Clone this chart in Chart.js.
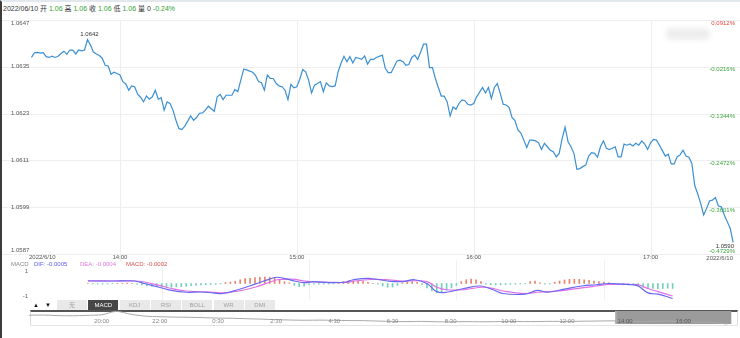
<!DOCTYPE html>
<html>
<head>
<meta charset="utf-8">
<script src="https://cdn.jsdelivr.net/npm/chart.js@4.4.0/dist/chart.umd.min.js"></script>
<style>
  html, body { margin: 0; padding: 0; background: #fff; }
  body { width: 740px; height: 338px; position: relative; overflow: hidden;
         font-family: "Liberation Sans", "Noto Sans CJK SC", sans-serif; }
  canvas { position: absolute; left: 0; }
  #frame { position: absolute; left: 0; top: 0; width: 740px; height: 338px; box-sizing: border-box;
           border-left: 2px solid #3c3c3c; border-top: 2px solid #e3e8ef; pointer-events: none; z-index: 5; }
  #head { position: absolute; left: 3px; top: 5px; font-size: 7px; line-height: 8px; color: #333; white-space: nowrap; }
  #head .n { color: #2f9f2f; }
  #blob { position: absolute; left: 666px; top: 28px; width: 44px; height: 12px; background: #eeeeee;
          border-radius: 4px; filter: blur(2.5px); }
  #tabs { position: absolute; left: 0; top: 300px; height: 10px; width: 300px; z-index: 3; }
  #tabs .arr { position: absolute; top: 0; font-size: 6px; line-height: 10px; color: #111; }
  #tabs .tab { position: absolute; top: 0; width: 30px; height: 10px; background: #e9e9e9;
               font-size: 6px; line-height: 10px; text-align: center; color: #a0a0a0; }
  #tabs .tab.on { background: #474747; color: #fff; }
  #nav { position: absolute; left: 30px; top: 310px; width: 708px; height: 16px; box-sizing: border-box;
         border-top: 2px solid #555; border-left: 1px solid #ddd; border-right: 1px solid #ddd;
         border-bottom: 1px solid #e4e4e4; }
</style>
</head>
<body>
<div id="head">2022/06/10 开 <span class="n">1.06</span> 高 <span class="n">1.06</span> 收 <span class="n">1.06</span> 低 <span class="n">1.06</span> 量 0 <span class="n">-0.24%</span></div>
<div id="blob"></div>
<canvas id="main" width="740" height="262" style="top:0"></canvas>
<canvas id="macd" width="740" height="46" style="top:256px"></canvas>
<div id="nav"></div>
<canvas id="navc" width="740" height="16" style="top:310px"></canvas>
<div id="tabs">
  <span class="arr" style="left:33px">▲</span>
  <span class="arr" style="left:45px">▼</span>
</div>
<div id="frame"></div>
<script>
// minutes after 13:30, one price per traced minute
const minutes = [
  0,1,2,3,4,5,6,7,8,9,10,11,12,13,14,15,16,17,18,19,20,21,22,23,24,25,26,27,28,29,
  30,31,32,33,34,35,36,37,38,39,40,41,42,43,44,45,46,47,48,49,50,51,52,54,55,56,57,58,59,60,
  62,63,64,65,66,68,69,70,71,72,73,75,76,77,78,79,80,81,82,83,84,85,86,87,88,89,90,
  91,92,93,94,95,96,97,98,99,100,101,102,103,104,105,106,107,108,109,110,111,112,113,114,115,116,117,119,120,
  121,122,123,124,125,126,127,128,129,130,131,132,133,134,135,136,137,138,139,140,141,142,143,144,145,146,147,148,149,150,
  151,153,154,155,156,157,158,159,160,161,162,163,164,165,166,167,168,169,170,171,172,173,174,175,176,177,178,179,180,
  181,182,183,184,185,186,187,188,189,190,191,192,193,194,195,196,197,198,199,200,201,202,203,204,205,206,207,208,209,210,
  211,212,213,214,215,216,217,218,219,220,221,222,223,224,225,226,227,228,229,230,231,232,233,234,235,236,237,238
];
const prices = [
  1.06374,1.06386,1.06387,1.06385,1.06386,1.06376,1.06374,1.06377,1.06374,1.06377,1.06384,1.06390,1.06382,1.06393,1.06393,
  1.06383,1.06393,1.06391,1.06393,1.0642,1.06406,1.06388,1.06383,1.06379,1.06372,1.06354,1.06352,1.06331,1.06336,1.06333,
  1.06329,1.06312,1.06306,1.06290,1.06301,1.06299,1.06280,1.06272,1.06260,1.06275,1.06267,1.06273,1.06290,1.06267,1.06271,
  1.06239,1.06260,1.06256,1.06239,1.06213,1.06192,1.06189,1.06198,1.06224,1.06213,1.06220,1.06231,1.06232,1.06239,1.06249,
  1.06236,1.06273,1.06279,1.06266,1.06277,1.06277,1.06292,1.06286,1.06316,1.06344,1.06342,1.06336,1.06328,1.06312,1.06309,
  1.06290,1.06329,1.06320,1.06320,1.06307,1.06301,1.06299,1.06290,1.06266,1.06305,1.06296,1.06299,
  1.06318,1.06343,1.06337,1.06316,1.06283,1.06303,1.06307,1.06312,1.06286,1.06309,1.06301,1.06299,1.06301,1.06337,1.06359,
  1.06377,1.06363,1.06376,1.06360,1.06374,1.06372,1.06369,1.06378,1.06357,1.06369,1.06369,1.06374,1.06380,1.06346,
  1.06335,1.06335,1.06350,1.06365,1.06367,1.06363,1.06354,1.06356,1.06374,1.06380,1.06369,1.06388,1.06408,1.06408,1.06348,
  1.06348,1.06320,1.06297,1.06275,1.06275,1.06260,1.06224,1.06247,1.06241,1.06256,1.06265,1.06263,1.06254,1.06252,1.06256,
  1.06273,1.06297,1.06283,1.06297,1.06269,1.06297,1.06307,1.06282,1.06254,1.06252,1.06246,1.06220,1.06212,1.06188,1.06180,
  1.06162,1.06143,1.06162,1.06162,1.06160,1.06155,1.06138,1.06154,1.06145,1.06136,1.06132,1.06119,1.06128,1.06166,
  1.06195,1.06158,1.06145,1.06128,1.06087,1.06089,1.06094,1.06098,1.06121,1.06130,1.06128,1.06118,1.06145,1.06160,1.06141,
  1.06138,1.06141,1.06145,1.06119,1.06119,1.06152,1.06149,1.06152,1.06147,1.06154,1.06149,1.06160,1.06152,1.06138,1.06155,
  1.06164,1.06162,1.06149,1.06135,1.06121,1.06126,1.06101,1.06101,1.06119,1.06124,1.06136,1.06121,1.06118,1.06102,1.06045,
  1.06024,1.05999,1.05970,1.05987,1.06006,1.06008,1.06015,1.05993,1.05991,1.05970,1.05953,1.05936,1.0590
];

const priceTicks = [1.0647, 1.0635, 1.0623, 1.0611, 1.0599, 1.0587];
const pctLabels = ["0.0912%", "-0.0216%", "-0.1344%", "-0.2472%", "-0.3601%", "-0.4729%"];
const timeTicks = [30, 90, 150, 210];
const timeLabels = ["14:00", "15:00", "16:00", "17:00"];
const dateLabel = "2022/6/10";

// MACD lines, sampled at these minutes
const macdMinutes = [0,10,19,23,29,34,40,46,51,55,61,68,74,77,83,88,92,98,105,108,115,122,128,133,138,142,146,153,160,165,169,178,183,187,194,201,207,212,217,222,224,228,232,238];
const difValues = [0.2,0.2,0.2,0.0,-0.3,-0.55,-0.7,-0.68,-0.75,-0.8,-0.5,-0.05,0.35,0.5,0.25,0.07,0.15,0.07,0.12,0.3,0.4,0.2,0.15,0.3,0.0,-0.65,-0.7,-0.4,-0.2,-0.5,-0.8,-0.85,-0.55,-0.7,-0.45,-0.2,-0.1,0.0,-0.05,-0.1,-0.2,-0.75,-0.85,-1.2];
const deaValues = [0.22,0.2,0.2,0.12,-0.15,-0.4,-0.6,-0.66,-0.7,-0.75,-0.62,-0.3,0.1,0.3,0.35,0.2,0.12,0.1,0.08,0.18,0.32,0.3,0.2,0.22,0.15,-0.3,-0.5,-0.5,-0.3,-0.4,-0.6,-0.8,-0.7,-0.65,-0.55,-0.35,-0.2,-0.08,-0.05,-0.08,-0.1,-0.4,-0.65,-1.0];
// MACD histogram, every 2 minutes from 0 to 238
const histValues = [
  0.02,-0.03,-0.04,-0.04,-0.03,-0.02,0.02,0.02,0.03,0.02,-0.05,-0.12,-0.18,-0.22,-0.25,-0.27,-0.3,-0.3,-0.28,-0.26,
  -0.22,-0.18,-0.15,-0.12,-0.1,-0.08,-0.06,-0.03,0.08,0.12,0.18,0.3,0.4,0.42,0.48,0.5,0.52,0.5,0.45,0.3,
  0.15,0.05,-0.15,-0.25,-0.22,-0.08,-0.05,-0.05,-0.04,-0.04,-0.03,0.03,0.15,0.2,0.22,0.2,0.18,0.1,0.02,-0.05,
  -0.2,-0.3,-0.28,-0.15,0.05,0.12,0.15,0.1,-0.1,-0.35,-0.6,-0.75,-0.7,-0.55,-0.35,-0.15,0.15,0.3,0.35,0.3,
  0.15,-0.05,-0.1,-0.12,-0.1,-0.08,-0.06,-0.05,-0.04,-0.03,0.15,0.2,0.05,-0.05,-0.04,0.1,0.2,0.28,0.33,0.35,
  0.33,0.3,0.25,0.2,0.15,0.1,0.06,-0.05,-0.08,-0.1,-0.1,-0.12,-0.2,-0.3,-0.38,-0.4,-0.42,-0.4,-0.38,-0.4
];
const histMinutes = histValues.map((_, i) => i * 2);
const macdReadout = [["MACD", "#8a8a8a", 11], ["DIF: -0.0005", "#5a5af0", 34], ["DEA: -0.0004", "#e27ae2", 80], ["MACD: -0.0002", "#d9534f", 126]];

// overview strip: one price per half hour slot, labels every fourth slot
const navPrices = [
  1.0720,1.0722,1.0714,1.0712,1.0718,1.0727,1.0776,1.0734,1.0706,1.0698,1.0692,1.0690,1.0684,1.0678,1.0675,1.0668,
  1.0662,1.0655,1.0649,1.0646,1.0648,1.0645,1.0641,1.0640,1.0634,1.0628,1.0626,1.0629,1.0624,1.0622,1.0626,1.0623,
  1.0625,1.0628,1.0626,1.0627,1.0630,1.0628,1.0632,1.0634,1.0637,1.0633,1.0625,1.0630,1.0635,1.0626,1.0617,1.0615,1.0590
];
const navTickSlots = [5, 9, 13, 17, 21, 25, 29, 33, 37, 41, 45];
const navTickLabels = ["20:00", "22:00", "0:30", "2:30", "4:30", "6:30", "8:30", "10:00", "12:00", "14:00", "16:00"];
const navWindow = [40.3, 48.3];

const tabNames = ["无", "MACD", "KDJ", "RSI", "BOLL", "WR", "DMI"];

const FONT = '"Liberation Sans", "Noto Sans CJK SC", sans-serif';
const X_MIN = -10.68, X_MAX = 240.33;

const tabs = document.getElementById("tabs");
tabNames.forEach((name, i) => {
  const el = document.createElement("div");
  el.className = "tab" + (name === "MACD" ? " on" : "");
  el.style.left = (57 + i * 31.3) + "px";
  el.textContent = name;
  tabs.appendChild(el);
});

const mainDecor = {
  id: "mainDecor",
  beforeDatasetsDraw(chart) {
    const { ctx, chartArea: area, scales: { x, y } } = chart;
    ctx.save();
    ctx.strokeStyle = "#eeeeee";
    ctx.lineWidth = 1;
    priceTicks.forEach(v => {
      const py = Math.round(y.getPixelForValue(v)) + 0.5;
      ctx.beginPath(); ctx.moveTo(0, py); ctx.lineTo(chart.width, py); ctx.stroke();
    });
    timeTicks.forEach(t => {
      const px = Math.round(x.getPixelForValue(t)) + 0.5;
      ctx.beginPath(); ctx.moveTo(px, area.top); ctx.lineTo(px, chart.height); ctx.stroke();
    });

    ctx.font = "6px " + FONT;
    ctx.textBaseline = "middle";
    priceTicks.forEach((v, i) => {
      const py = y.getPixelForValue(v);
      ctx.fillStyle = "#555";
      ctx.textAlign = "left";
      ctx.fillText(v.toFixed(4), 11, Math.min(Math.max(py, 23), 250));
      ctx.fillStyle = pctLabels[i].startsWith("-") ? "#3aa53a" : "#e5443b";
      ctx.textAlign = "right";
      ctx.fillText(pctLabels[i], 735, Math.min(Math.max(py + 3, 23), 251));
    });

    ctx.fillStyle = "#555";
    ctx.textAlign = "center";
    timeTicks.forEach((t, i) => ctx.fillText(timeLabels[i], x.getPixelForValue(t), 257));
    ctx.textAlign = "left";
    ctx.fillText(dateLabel, 29, 257);
    ctx.textAlign = "right";
    ctx.fillText(dateLabel, 733, 258);
    ctx.restore();
  },
  afterDatasetsDraw(chart) {
    const { ctx, scales: { x, y } } = chart;
    ctx.save();
    ctx.font = "6px " + FONT;
    ctx.fillStyle = "#333";
    ctx.textBaseline = "middle";
    // session high above its point, last price at the right edge
    let hi = 0;
    prices.forEach((p, i) => { if (p > prices[hi]) hi = i; });
    ctx.textAlign = "center";
    ctx.fillText(prices[hi].toFixed(4), x.getPixelForValue(minutes[hi]) + 2, y.getPixelForValue(prices[hi]) - 5);
    const last = prices.length - 1;
    ctx.textAlign = "right";
    ctx.fillText(prices[last].toFixed(4), 734, y.getPixelForValue(prices[last]) + 4);
    ctx.restore();
  }
};

new Chart(document.getElementById("main"), {
  type: "line",
  data: {
    datasets: [{
      data: minutes.map((m, i) => ({ x: m, y: prices[i] })),
      borderColor: "#3b8fd3",
      borderWidth: 1.2,
      pointRadius: 0,
      tension: 0
    }]
  },
  options: {
    responsive: false,
    animation: false,
    layout: { padding: { top: 20, bottom: 8 } },
    scales: {
      x: { type: "linear", min: X_MIN, max: X_MAX, display: false },
      y: { min: 1.0587, max: 1.0647, display: false }
    },
    plugins: { legend: { display: false }, tooltip: { enabled: false } }
  },
  plugins: [mainDecor]
});

const macdDecor = {
  id: "macdDecor",
  beforeDatasetsDraw(chart) {
    const { ctx, scales: { x, y } } = chart;
    ctx.save();
    ctx.strokeStyle = "#f0f0f0";
    ctx.lineWidth = 1;
    timeTicks.forEach(t => {
      const px = Math.round(x.getPixelForValue(t)) + 0.5;
      ctx.beginPath(); ctx.moveTo(px, 4); ctx.lineTo(px, 44); ctx.stroke();
    });
    ctx.font = "6px " + FONT;
    ctx.textBaseline = "middle";
    ctx.textAlign = "right";
    ctx.fillStyle = "#666";
    ctx.fillText("1", 28, y.getPixelForValue(1));
    ctx.fillText("-1", 28, y.getPixelForValue(-1));
    ctx.textAlign = "left";
    macdReadout.forEach(([text, color, left]) => {
      ctx.fillStyle = color;
      ctx.fillText(text, left, 8);
    });
    ctx.restore();
  }
};

new Chart(document.getElementById("macd"), {
  type: "bar",
  data: {
    datasets: [
      {
        type: "line",
        data: macdMinutes.map((m, i) => ({ x: m, y: deaValues[i] })),
        borderColor: "#e070e6",
        borderWidth: 1.2,
        pointRadius: 0,
        tension: 0.4,
        order: 1
      },
      {
        type: "line",
        data: macdMinutes.map((m, i) => ({ x: m, y: difValues[i] })),
        borderColor: "#6868f0",
        borderWidth: 1.2,
        pointRadius: 0,
        tension: 0.4,
        order: 0
      },
      {
        type: "bar",
        data: histMinutes.map((m, i) => ({ x: m, y: histValues[i] })),
        backgroundColor: histValues.map(v => v >= 0 ? "#e5846b" : "#72cfbc"),
        barThickness: 1,
        order: 2
      }
    ]
  },
  options: {
    responsive: false,
    animation: false,
    layout: { padding: { top: 9 } },
    scales: {
      x: { type: "linear", min: X_MIN, max: X_MAX, display: false },
      y: { min: -1.48, max: 1.48, display: false }
    },
    plugins: { legend: { display: false }, tooltip: { enabled: false } }
  },
  plugins: [macdDecor]
});

const navDecor = {
  id: "navDecor",
  beforeDatasetsDraw(chart) {
    const { ctx, chartArea: area, scales: { x } } = chart;
    const x0 = x.getPixelForValue(navWindow[0]);
    const x1 = x.getPixelForValue(navWindow[1]);
    ctx.save();
    ctx.fillStyle = "#9b9b9b";
    ctx.fillRect(x0, area.top, x1 - x0, area.bottom - area.top - 1);
    ctx.fillStyle = "#b5b5b5";
    ctx.fillRect(x0, area.top, 1.5, area.bottom - area.top - 1);
    ctx.restore();
  },
  afterDatasetsDraw(chart) {
    const { ctx, scales: { x } } = chart;
    ctx.save();
    ctx.font = "6px " + FONT;
    ctx.textBaseline = "middle";
    ctx.textAlign = "center";
    navTickSlots.forEach((s, i) => {
      ctx.fillStyle = s >= navWindow[0] ? "#555" : "#888";
      ctx.fillText(navTickLabels[i], x.getPixelForValue(s), 11);
    });
    ctx.restore();
  }
};

new Chart(document.getElementById("navc"), {
  type: "line",
  data: {
    datasets: [{
      data: navPrices.map((p, i) => ({ x: i, y: p })),
      borderColor: "#a8a8a8",
      borderWidth: 1,
      pointRadius: 0,
      tension: 0.3
    }]
  },
  options: {
    responsive: false,
    animation: false,
    layout: { padding: { left: 29, right: 2, top: 1, bottom: 1 } },
    scales: {
      x: { type: "linear", min: 0, max: 48.76, display: false },
      y: { min: 1.0576, max: 1.0782, display: false }
    },
    plugins: { legend: { display: false }, tooltip: { enabled: false } }
  },
  plugins: [navDecor]
});
</script>
</body>
</html>
